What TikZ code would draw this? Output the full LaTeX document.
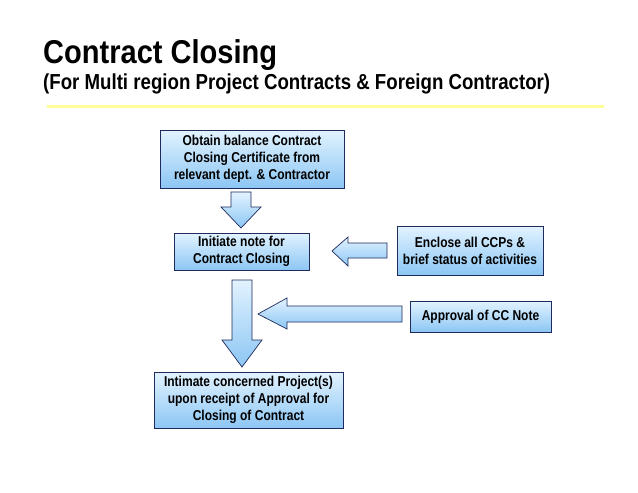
\documentclass[tikz,border=0pt]{standalone}
\usepackage{fontspec}
\setmainfont{Liberation Sans}
\newfontfamily\titlefont{Liberation Sans}[FakeStretch=0.88]
\newfontfamily\subfont{Liberation Sans}[FakeStretch=0.86]
\newfontfamily\narrowfont{Liberation Sans}[FakeStretch=0.84]
\definecolor{boxtop}{HTML}{E2F3FF}
\definecolor{boxbot}{HTML}{8CC6F4}
\definecolor{edge}{HTML}{1E2B5C}
\definecolor{rule}{HTML}{FFFF99}
\tikzset{
  procbox/.style={draw=edge, line width=0.8pt, top color=boxtop, bottom color=boxbot,
    align=center, inner sep=0pt, font=\narrowfont\bfseries\fontsize{14.3}{16.8}\selectfont},
  blockarrow/.style={draw=edge, line width=0.7pt, top color=boxtop, bottom color=boxbot, line join=miter}
}
\begin{document}
\begin{tikzpicture}[x=1pt,y=-1pt]
\useasboundingbox (0,0) rectangle (638,493);
\fill[white] (0,0) rectangle (638,493);
% title
\node[anchor=base west, inner sep=0pt, font=\titlefont\bfseries\fontsize{33}{36}\selectfont] (title) at (43,63) {Contract Closing};
\node[anchor=base west, inner sep=0pt, font=\subfont\bfseries\fontsize{21.7}{24}\selectfont] (subtitle) at (43,89) {(For Multi region Project Contracts \& Foreign Contractor)};
\draw[rule, line width=3pt] (47,106) -- (604,106);
% boxes
\node[procbox, minimum width=184pt, minimum height=58pt] (obtain) at (252,159) {Obtain balance Contract\\Closing Certificate from\\relevant dept. \& Contractor};
\node[procbox, minimum width=135pt, minimum height=37pt] (initiate) at (241.5,251.5) {Initiate note for\\Contract Closing};
\node[procbox, minimum width=146pt, minimum height=49pt] (enclose) at (470,250.5) {Enclose all CCPs \&\\brief status of activities};
\node[procbox, minimum width=141pt, minimum height=31pt] (approval) at (480.5,316.5) {Approval of CC Note};
\node[procbox, minimum width=189pt, minimum height=56pt] (intimate) at (248.5,400) {Intimate concerned Project(s)\\upon receipt of Approval for\\Closing of Contract};
% block arrows
\draw[blockarrow] (231,192) -- (251,192) -- (251,207) -- (261,207) -- (241,228) -- (221,207) -- (231,207) -- cycle;
\draw[blockarrow] (387,243) -- (387,258) -- (348,258) -- (348,266) -- (332,251) -- (348,237) -- (348,243) -- cycle;
\draw[blockarrow] (402,306) -- (402,322) -- (287,322) -- (287,329) -- (258,314) -- (287,298) -- (287,306) -- cycle;
\draw[blockarrow] (232,280) -- (252,280) -- (252,340) -- (262,340) -- (242,367) -- (222,340) -- (232,340) -- cycle;
\end{tikzpicture}
\end{document}
